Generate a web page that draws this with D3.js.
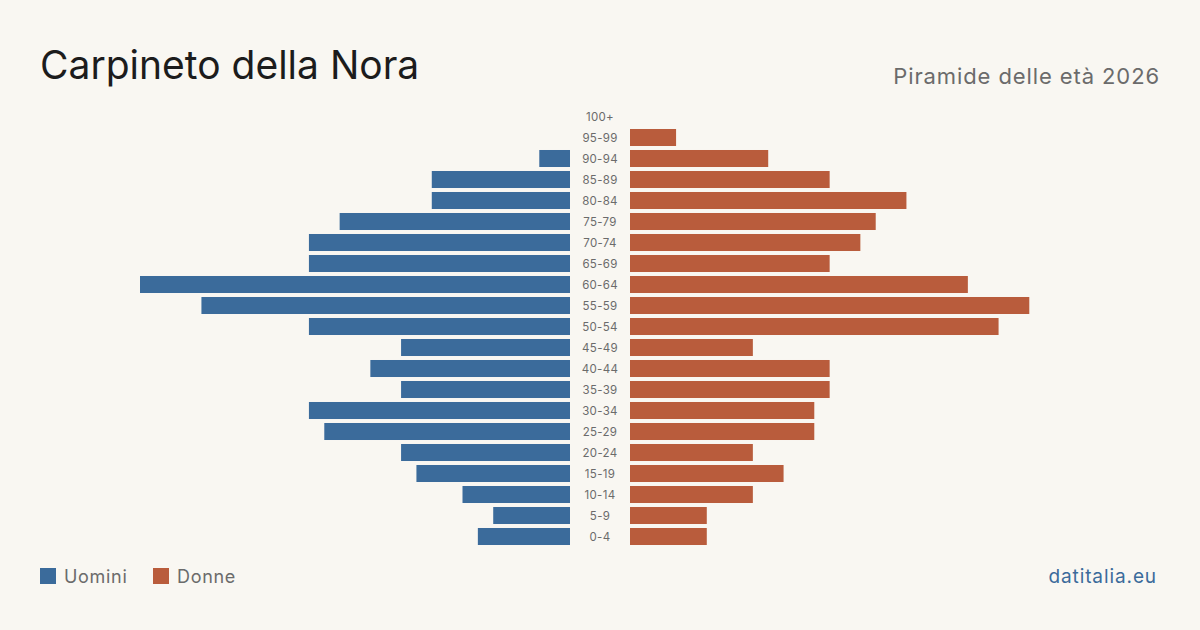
<!DOCTYPE html>
<html lang="it">
<head>
  <meta charset="utf-8" />
  <title>Carpineto della Nora - Piramide delle età 2026</title>
  <script src="https://d3js.org/d3.v7.min.js"></script>
  <style>
    html, body { margin: 0; padding: 0; background: #f9f7f2; }
    text { font-family: Inter, "Noto Sans", sans-serif; }
  </style>
</head>
<body>
  <div id="chart"></div>
  <script>
    // age classes, top to bottom
    var ages = ["100+", "95-99", "90-94", "85-89", "80-84", "75-79", "70-74", "65-69",
                "60-64", "55-59", "50-54", "45-49", "40-44", "35-39", "30-34", "25-29",
                "20-24", "15-19", "10-14", "5-9", "0-4"];
    var uomini = [0, 0, 2, 9, 9, 15, 17, 17, 28, 24, 17, 11, 13, 11, 17, 16, 11, 10, 7, 5, 6];
    var donne  = [0, 3, 9, 13, 18, 16, 15, 13, 22, 26, 24, 8, 13, 13, 12, 12, 8, 10, 8, 5, 5];

    var blue = "#3b6b9b", red = "#b95c3c";
    var W = 1200, H = 630;
    var center = 600, gap = 30;

    var svg = d3.select("#chart").append("svg")
      .attr("width", W).attr("height", H);

    svg.append("rect").attr("width", W).attr("height", H).attr("fill", "#f9f7f2");

    var y = d3.scaleBand()
      .domain(ages)
      .range([106, 547])
      .paddingInner(0.19)
      .paddingOuter(0.095);

    var maxVal = d3.max(uomini.concat(donne));
    var x = d3.scaleLinear().domain([0, maxVal]).range([0, 430]);

    // men (left)
    svg.selectAll(".m")
      .data(ages)
      .enter().append("rect")
      .attr("class", "m")
      .attr("x", function(d, i) { return center - gap - x(uomini[i]); })
      .attr("y", function(d) { return y(d); })
      .attr("width", function(d, i) { return x(uomini[i]); })
      .attr("height", y.bandwidth())
      .attr("fill", blue);

    // women (right)
    svg.selectAll(".f")
      .data(ages)
      .enter().append("rect")
      .attr("class", "f")
      .attr("x", center + gap)
      .attr("y", function(d) { return y(d); })
      .attr("width", function(d, i) { return x(donne[i]); })
      .attr("height", y.bandwidth())
      .attr("fill", red);

    // age labels
    svg.selectAll(".age")
      .data(ages)
      .enter().append("text")
      .attr("class", "age")
      .attr("x", center)
      .attr("y", function(d) { return y(d) + y.bandwidth() / 2; })
      .attr("dy", "0.35em")
      .attr("text-anchor", "middle")
      .attr("font-size", 11.5)
      .attr("letter-spacing", 0.3)
      .attr("fill", "#6b6b6b")
      .text(function(d) { return d; });

    // titles
    svg.append("text")
      .attr("x", 40).attr("y", 79)
      .attr("font-size", 39)
      .attr("fill", "#1c1c1c")
      .text("Carpineto della Nora");

    svg.append("text")
      .attr("x", 1160).attr("y", 84)
      .attr("text-anchor", "end")
      .attr("font-size", 22)
      .attr("letter-spacing", 0.9)
      .attr("fill", "#6b6b6b")
      .text("Piramide delle età 2026");

    // legend
    var legend = [["Uomini", blue, 40], ["Donne", red, 153]];
    legend.forEach(function(l) {
      svg.append("rect")
        .attr("x", l[2]).attr("y", 568)
        .attr("width", 16).attr("height", 16)
        .attr("fill", l[1]);
      svg.append("text")
        .attr("x", l[2] + 24).attr("y", 583)
        .attr("font-size", 18)
        .attr("letter-spacing", 0.7)
        .attr("fill", "#6b6b6b")
        .text(l[0]);
    });

    svg.append("text")
      .attr("x", 1157).attr("y", 583)
      .attr("text-anchor", "end")
      .attr("font-size", 19)
      .attr("letter-spacing", 0.9)
      .attr("fill", blue)
      .text("datitalia.eu");
  </script>
</body>
</html>
